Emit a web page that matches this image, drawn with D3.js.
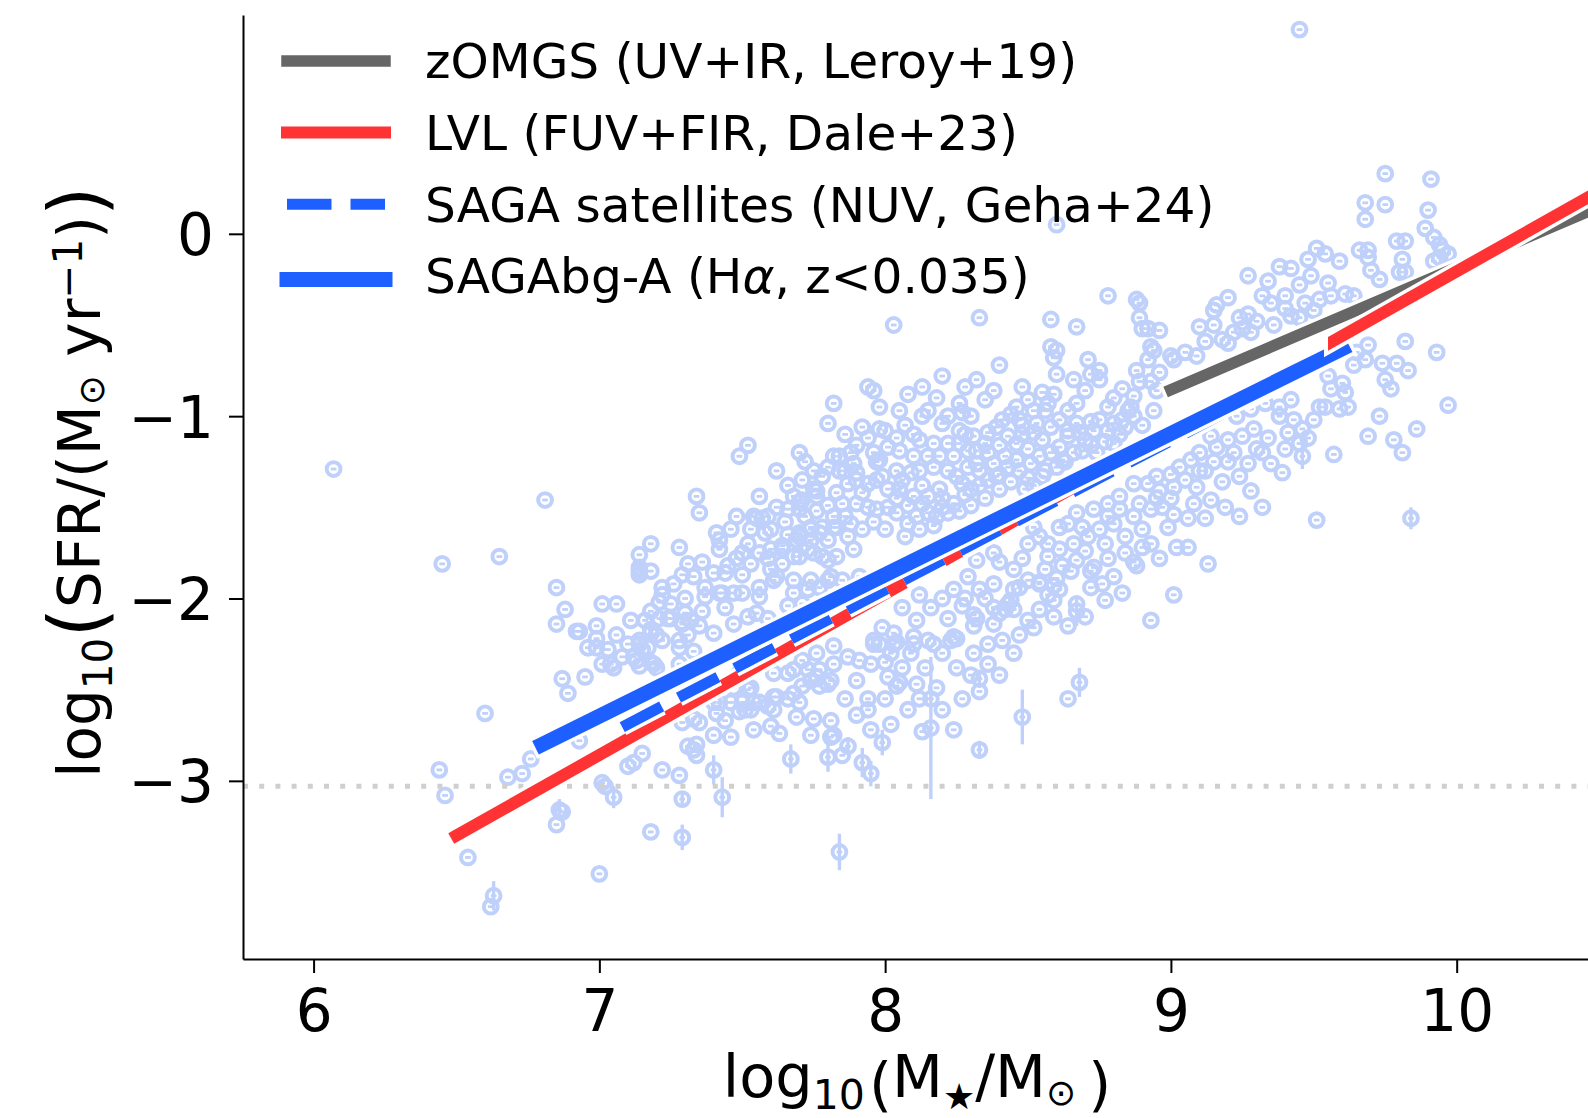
<!DOCTYPE html>
<html><head><meta charset="utf-8">
<script src="https://cdn.jsdelivr.net/npm/d3@7"></script>
<style>
body{margin:0;background:#fff}
svg{display:block}
text{font-family:"DejaVu Sans",sans-serif;fill:#000}
</style>
</head><body>
<svg id="chart" width="1588" height="1118"></svg>
<script>
// ---------------- data ----------------
const logMstar = [
9.45,6.07,6.45,6.65,6.81,6.44,6.46,6.54,6.60,6.68,
6.73,6.85,6.85,6.85,6.87,6.89,6.92,6.95,7.00,7.01,
7.06,7.02,7.18,7.22,6.62,7.33,6.76,7.49,7.52,7.34,
7.35,7.41,7.42,7.44,7.54,7.59,7.71,7.82,7.82,7.94,
7.98,8.03,8.13,8.20,8.33,8.40,8.58,8.60,8.58,8.67,
8.78,8.88,8.89,8.90,8.93,9.01,9.09,9.16,9.25,9.27,
9.27,9.38,9.40,9.28,9.01,8.93,8.87,8.77,8.64,8.54,
8.59,8.44,8.42,8.41,8.33,8.31,8.25,8.23,8.13,8.16,
8.14,8.10,8.05,8.01,6.93,7.94,7.94,7.90,7.10,7.85,
7.81,7.63,7.61,7.54,7.53,7.51,7.46,7.47,7.38,7.33,
7.39,7.33,7.28,7.22,7.20,7.17,7.13,7.14,7.18,7.14,
7.22,7.21,7.24,7.30,7.32,7.11,7.16,7.18,6.99,6.93,7.05,
8.89,8.92,8.60,8.59,8.60,8.71,8.72,8.75,8.75,8.88,
8.92,8.94,8.89,8.93,8.95,8.28,8.35,8.48,8.55,8.59,
8.50,8.57,8.52,8.67,8.80,8.87,8.86,8.78,8.94,7.96,
7.98,8.26,8.27,8.30,8.20,8.39,8.41,8.44,8.47,8.48,
8.52,8.53,8.58,8.61,8.64,8.67,8.72,8.75,8.80,8.83,
8.87,7.56,7.48,7.57,7.42,7.40,7.50,7.42,7.47,7.56,
7.56,7.60,7.64,7.69,7.66,7.70,7.71,7.76,7.80,7.84,
7.89,7.90,7.87,7.90,7.94,7.97,7.97,7.80,7.85,7.90,
7.94,7.88,7.83,7.78,7.74,7.70,7.74,7.80,7.87,7.89,
7.83,7.78,7.73,7.68,7.64,7.62,7.68,7.74,7.80,7.85,
7.91,7.97,8.01,8.04,8.08,8.11,8.15,8.18,8.22,8.24,
8.15,8.10,8.05,8.01,7.98,8.04,8.09,8.12,8.17,8.22,
8.25,8.27,8.29,8.32,8.36,8.32,8.29,8.24,8.19,8.15,
8.10,8.05,8.01,7.96,8.17,8.22,8.26,8.31,8.36,8.43,
8.46,8.46,8.43,8.39,8.36,8.47,8.51,8.54,8.58,8.61,
8.64,8.68,8.73,8.78,8.85,8.69,
8.52,8.57,8.61,8.67,8.69,8.73,8.78,8.82,8.87,8.89,
8.93,8.87,8.92,8.95,8.88,8.73,8.67,8.65,8.60,8.54,
8.72,8.76,8.47,8.45,8.38,8.43,8.32,8.38,8.59,8.67,
9.75,9.91,9.68,9.75,9.68,9.90,9.89,9.92,9.94,9.95,
9.94,9.79,9.82,9.66,9.69,9.69,9.81,9.70,9.73,9.80,
9.82,9.92,9.97,9.51,9.54,9.59,9.48,9.42,9.49,9.55,
9.32,9.35,9.40,9.42,9.47,9.52,9.56,9.61,9.64,9.15,
9.24,9.10,9.28,9.22,9.18,9.12,9.05,9.00,8.96,9.82,
9.93,9.69,9.65,9.64,9.68,9.74,9.79,9.83,9.75,9.77,
9.55,9.60,9.61,9.56,9.54,9.59,9.62,9.97,9.73,9.86,
9.69,9.78,9.81,9.57,9.51,9.14,9.18,9.27,9.35,9.39,
9.43,9.46,9.41,9.38,9.42,9.38,9.33,9.28,9.23,9.29,
9.25,9.20,9.16,9.14,9.10,9.07,9.03,9.00,9.05,9.09,
9.01,8.96,8.97,9.01,9.06,9.12,8.99,9.02,9.06,8.96,
7.75,7.76,7.70,7.55,7.28,7.31,7.29,7.14,7.18,7.14,
6.88,6.99,6.99,6.96,7.03,7.08,7.04,7.14,7.15,7.12,
7.14,7.18,7.18,7.21,7.25,7.29,7.18,7.22,7.35,7.28,
7.28,7.37,7.37,7.43,7.50,7.60,7.61,7.56,7.55,7.59,
7.66,7.71,7.52,7.47,7.40,7.66,7.70,7.74,7.77,7.82,
7.82,7.64,7.70,7.75,7.80,7.81,7.77,7.73,7.68,
7.12,7.15,7.01,6.87,7.28,7.34,7.34,7.40,7.35,7.29,
7.44,7.46,7.50,7.54,7.53,7.49,7.59,7.61,7.69,7.70,
7.71,7.76,7.80,7.74,7.66,7.61,7.59,7.54,7.49,7.71,
7.76,7.82,7.42,7.41,
7.14,7.19,7.31,7.29,7.31,7.40,7.75,7.81,7.82,7.68,
7.73,7.77,7.82,7.87,7.91,7.96,8.04,7.98,8.03,8.02,
7.56,7.62,7.68,7.74,7.77,7.81,
7.90,8.12,8.26,9.13,8.82,8.78,8.64,8.54,8.50,8.80,
8.75,8.71,8.66,8.61,8.57,8.61,8.33,8.29,8.24,8.59,
8.54,8.45,8.38,8.31,8.24,8.17,8.10,8.03,7.96,
8.06,8.11,8.16,8.22,8.27,8.32,8.38,7.99,8.04,8.09,
8.15,8.20,8.25,8.31,8.36,8.06,8.11,8.18,7.95,8.00,
8.08,8.20,8.27,8.24,8.02,7.95,
7.62,7.66,7.72,7.78,7.83,7.86,7.92,7.99,8.06,8.13,
8.19,8.08,8.13,8.20,8.28,8.33,8.30,8.35,8.40,8.42,
8.40,8.50,8.55,8.62,8.66,8.72,8.77,8.82,8.56,8.52,
8.00,8.07,8.13,8.05,7.92,7.86,7.80,7.70,7.65,7.58,
7.52,7.48,7.53,7.59,
8.40,8.48,8.56,8.62,8.70,8.77,8.84,8.90,8.93,8.84,
8.80,8.83,8.70,8.64,8.50,8.47,8.35,8.28,8.20,8.12,
9.20,9.24,9.30,9.34,9.45,9.12,9.08,9.19,9.24,9.32,
7.72,7.76,7.86,7.92,7.96,8.00,8.04,8.07,8.12,8.17,
8.20,8.26,8.30,8.33,8.38,8.40,8.44,8.49,8.50,8.55,
8.60,8.63,8.70,8.74,8.80,8.84,8.90,8.35,8.28,8.22,
8.15,8.10,8.04,7.94,7.88,7.84,7.75,7.68,7.62,7.60,
7.53,7.46,7.50,7.45,7.36,7.33,7.26,7.30,7.44,7.36,
7.25,7.20,7.10,7.06,7.01,8.48,8.56,8.64,8.70,8.83,
8.66,8.46,8.38,8.32,8.18,8.08,
9.30,9.36,9.45,9.50,9.34,9.45,9.20,9.15,9.20,
9.00,9.10,9.15,9.22,9.32,9.40,9.48,9.50,9.52,8.95,
8.90,8.96,8.78,8.72,8.57,8.50,8.45,8.52,8.40,8.36,
8.45,8.30,8.40,8.12,8.00,7.90,7.86,7.66,7.60,7.52
];
const logSFR = [
1.12,-1.29,-1.81,-1.77,-1.46,-2.94,-3.08,-3.42,-2.63,-2.98,
-2.96,-1.94,-2.14,-3.24,-2.44,-2.52,-2.18,-2.43,-3.51,-2.03,
-2.03,-3.03,-3.28,-2.94,-3.69,-2.83,-2.88,-1.22,-1.16,-1.44,
-1.53,-1.64,-1.73,-1.86,-1.55,-1.55,-1.35,-1.22,-0.93,-0.84,
-0.95,-0.50,-0.84,-0.78,-0.46,-0.72,-0.47,0.05,-0.62,-0.51,
-0.34,-0.36,-0.38,-0.52,-0.62,-0.69,-0.67,-0.39,-0.52,-0.23,
-0.44,-0.18,-0.34,-1.41,-1.98,-2.12,-1.80,-2.01,-2.55,-1.91,
-1.93,-2.01,-2.06,-2.23,-2.51,-2.09,-2.22,-2.23,-2.73,-2.55,
-2.38,-2.25,-2.46,-2.43,-2.78,-2.55,-2.61,-2.64,-2.92,-2.86,
-2.76,-2.74,-2.54,-2.72,-2.49,-2.61,-2.76,-2.49,-2.53,-2.66,
-2.33,-2.29,-2.36,-2.23,-2.38,-2.27,-2.34,-1.76,-1.70,-1.85,
-1.94,-2.02,-2.11,-2.08,-2.12,-2.12,-2.12,-2.19,-2.27,-2.18,-2.38,
-0.46,-0.52,-0.64,-0.68,-0.77,-0.69,-0.77,-0.75,-0.80,-0.75,
-0.69,-0.64,-0.81,-0.81,-0.86,-0.84,-0.91,-0.84,-0.87,-0.88,
-0.91,-0.93,-0.97,-0.93,-0.90,-0.89,-0.95,-0.95,-0.97,-0.86,
-1.07,-0.93,-0.98,-1.00,-1.04,-1.06,-1.02,-0.99,-1.02,-1.05,
-1.09,-1.04,-1.06,-1.02,-1.08,-1.04,-1.03,-1.02,-1.04,-1.02,
-1.00,-1.44,-1.55,-1.56,-1.68,-1.86,-1.87,-1.97,-1.97,-1.94,
-1.75,-1.73,-1.71,-1.68,-1.51,-1.51,-1.46,-1.41,-1.28,-1.22,
-1.26,-1.31,-1.37,-1.35,-1.37,-1.25,-1.35,-1.49,-1.48,-1.48,
-1.50,-1.59,-1.61,-1.61,-1.61,-1.64,-1.68,-1.68,-1.66,-1.73,
-1.77,-1.77,-1.73,-1.77,-1.81,-1.88,-1.90,-1.90,-1.90,-1.90,
-1.88,-1.51,-1.50,-1.53,-1.59,-1.55,-1.53,-1.55,-1.53,-1.48,
-1.44,-1.44,-1.40,-1.40,-1.24,-1.30,-1.31,-1.30,-1.28,-1.30,
-1.33,-1.37,-1.28,-1.26,-1.20,-1.19,-1.19,-1.22,-1.22,-1.22,
-1.22,-1.19,-1.17,-1.20,-1.15,-1.15,-1.15,-1.11,-1.09,-1.11,
-1.15,-1.24,-1.28,-1.33,-1.35,-1.30,-1.26,-1.22,-1.20,-1.17,
-1.11,-1.09,-1.08,-1.08,-0.97,-1.19,
-1.61,-1.70,-1.61,-1.53,-1.61,-1.51,-1.55,-1.51,-1.55,-1.48,
-1.51,-1.37,-1.37,-1.33,-1.82,-1.83,-1.79,-1.85,-1.89,-1.92,
-1.94,-1.92,-1.94,-1.84,-1.75,-2.03,-1.79,-1.92,-2.01,-2.03,
0.33,0.30,0.17,0.16,0.08,0.13,0.03,-0.02,-0.06,-0.09,
-0.13,-0.04,-0.04,-0.09,-0.09,-0.13,-0.14,-0.20,-0.25,-0.21,
-0.21,-0.15,-0.11,-0.08,-0.11,-0.15,-0.14,-0.19,-0.23,-0.27,
-0.34,-0.38,-0.41,-0.45,-0.38,-0.36,-0.34,-0.33,-0.34,-0.42,
-0.46,-0.51,-0.54,-0.54,-0.58,-0.59,-0.65,-0.67,-0.76,-0.59,
-0.65,-0.61,-0.65,-0.72,-0.69,-0.71,-0.71,-0.75,-0.80,-0.85,
-0.78,-0.82,-0.87,-0.85,-0.95,-0.96,-0.95,-0.94,-1.00,-1.07,
-1.11,-1.13,-1.20,-1.21,-1.57,-1.46,-1.36,-1.26,-1.26,-1.31,
-1.02,-1.07,-1.09,-1.00,-0.91,-0.95,-0.93,-0.96,-1.00,-1.07,
-1.11,-1.13,-1.17,-1.11,-1.20,-1.24,-1.28,-1.32,-1.35,-1.39,
-1.39,-1.41,-1.50,-1.54,-1.56,-1.56,-1.61,-1.72,-1.72,-0.53,
-1.40,-1.44,-1.47,-1.56,-1.72,-1.81,-1.87,-1.83,-1.85,-1.87,
-2.06,-2.15,-2.22,-2.27,-2.28,-2.32,-2.36,-2.23,-2.28,-2.32,
-2.37,-2.35,-2.07,-2.11,-2.11,-2.13,-2.17,-1.98,-2.15,-2.23,
-2.27,-1.94,-1.99,-1.97,-1.97,-1.84,-1.90,-1.99,-2.08,-2.11,
-2.04,-2.03,-2.10,-2.14,-2.19,-1.65,-1.66,-1.62,-1.64,-1.61,
-1.55,-1.73,-1.77,-1.75,-1.79,-1.88,-1.94,-1.95,-1.97,
-2.90,-2.85,-3.01,-3.17,-2.97,-2.80,-2.86,-2.75,-2.68,-2.68,
-2.67,-2.57,-2.57,-2.57,-2.61,-2.62,-2.59,-2.61,-2.65,-2.57,
-2.48,-2.43,-2.47,-2.75,-2.41,-2.41,-2.34,-2.36,-2.41,-2.34,
-2.30,-2.26,-2.57,-2.63,
-2.25,-2.36,-2.20,-2.14,-2.81,-2.57,-2.66,-2.67,-2.75,-2.39,
-2.39,-2.39,-2.36,-2.32,-2.34,-2.25,-2.48,-2.25,-2.19,-2.30,
-2.57,-2.54,-2.52,-2.45,-2.48,-2.45,
-1.16,-1.13,-1.08,-1.81,-1.44,-1.48,-1.59,-1.66,-1.70,-1.59,
-1.62,-1.66,-1.70,-1.73,-1.77,-1.95,-1.95,-1.88,-1.95,-2.10,
-2.06,-2.06,-2.14,-2.15,-2.21,-2.25,-2.21,-2.25,-2.23,
-2.05,-2.12,-2.05,-2.11,-2.04,-2.11,-2.05,-2.16,-2.24,-2.30,
-2.23,-2.30,-2.38,-2.30,-2.36,-2.38,-2.47,-2.49,-2.36,-2.55,
-2.61,-2.61,-2.55,-2.72,-2.69,-2.72,
-1.30,-1.38,-1.25,-1.33,-1.42,-1.30,-1.42,-1.33,-1.35,-1.38,
-1.40,-1.49,-1.48,-1.45,-1.43,-1.38,-1.49,-1.45,-1.40,-1.22,
-1.16,-1.18,-1.13,-1.24,-1.20,-1.16,-1.14,-1.10,-1.30,-1.38,
-1.08,-1.05,-1.00,-0.97,-1.06,-1.10,-1.04,-1.20,-1.58,-1.64,
-1.70,-1.78,-1.81,-1.78,
-1.80,-1.78,-1.84,-1.82,-1.74,-1.70,-1.66,-1.62,-1.70,-1.75,
-1.88,-1.97,-2.10,-2.15,-2.12,-2.20,-2.00,-2.00,-2.00,-1.98,
-1.25,-1.33,-1.18,-1.12,-1.15,-1.30,-1.48,-1.50,-1.55,-1.50,
-1.55,-1.52,-1.55,-1.62,-1.58,-1.62,-1.45,-1.66,-1.62,-1.60,
-1.50,-1.52,-1.40,-1.30,-1.26,-1.32,-1.36,-1.40,-1.34,-1.33,
-1.28,-1.25,-1.13,-1.20,-1.15,-1.06,-1.05,-1.15,-1.10,-1.00,
-0.97,-1.10,-1.12,-1.12,-1.20,-1.30,-1.30,-1.44,-1.50,-1.62,
-1.62,-1.62,-1.75,-1.82,-1.80,-1.88,-1.92,-2.00,-2.05,-2.07,
-2.03,-2.20,-2.25,-2.20,-2.36,-1.10,-0.97,-0.97,-0.86,-0.85,
-0.80,-0.95,-0.86,-0.80,-0.90,-0.88,
-0.48,-0.50,-0.46,-0.42,-0.26,-0.28,-0.35,-0.50,-0.60,
-1.45,-1.30,-1.25,-1.20,-1.20,-1.18,-1.12,-1.02,-0.95,-1.45,
-1.72,-1.78,-1.78,-1.85,-1.98,-1.90,-1.95,-2.16,-2.08,-2.25,
-2.30,-2.42,-2.42,-2.55,-2.35,-2.45,-2.55,-2.55,-2.70,-2.50
];
// galaxies with visible SFR error bars
const errMstar = [6.63,6.86,7.05,7.29,7.43,7.40,7.29,7.67,7.80,7.84,7.92,7.95,7.87,7.99,8.16,8.33,8.33,8.48,8.68,8.67,9.46,9.84];
const errSFR   = [-3.63,-3.16,-3.09,-3.31,-3.09,-2.94,-3.10,-2.88,-2.87,-3.39,-2.90,-2.96,-2.81,-2.79,-2.71,-2.83,-2.44,-2.65,-2.46,-2.07,-1.22,-1.56];
const errSize  = [0.08,0.06,0.06,0.07,0.11,0.08,0.04,0.08,0.08,0.10,0.08,0.07,0.05,0.07,0.39,0.05,0.05,0.15,0.08,0.08,0.07,0.06];
const MASS_ERR = 0.01;

// relations (start/end in log M*, log SFR)
const fitLabels = ["zOMGS (UV+IR, Leroy+19)","LVL (FUV+FIR, Dale+23)","SAGA satellites (NUV, Geha+24)","SAGAbg-A (H\u03b1, z<0.035)"];
const fitStartX = [9.0, 6.5, 7.08, 6.8];
const fitStartY = [-0.855, -3.30, -2.705, -2.80];
const fitEndX   = [10.5, 10.5, 9.55, 9.6];
const fitEndY   = [0.15, 0.236, -0.685, -0.63];
const lvlHiddenFrom = 9.1;      // LVL passes beneath SAGAbg-A here
const lvlOverlapStart = 9.55;   // LVL drawn on top beyond this mass
const sfrFloor = -3.03;

const xTicks = [6,7,8,9,10];
const yTicks = [0,-1,-2,-3];

// ---------------- styles ----------------
const fitColor = ["#666666","#ff3333","#1e5fff","#1e5fff"];
const fitWidth = [11.5,12,11,15];
const fitDash  = [null,null,"44.5,19",null];
const POINT_COLOR = "#bfd1fb";

// ---------------- chart ----------------
const svg = d3.select("#chart");
const x = d3.scaleLinear().domain([5.753, 10.47]).range([243, 1591]);
const y = d3.scaleLinear().domain([-3.977, 1.2]).range([959, 15]);

const defs = svg.append("defs");
defs.append("clipPath").attr("id","clipLow").append("rect")
  .attr("x",0).attr("y",0).attr("width",x(lvlHiddenFrom)).attr("height",1118);
defs.append("clipPath").attr("id","clipHalo").append("rect")
  .attr("x",x(lvlOverlapStart)-4).attr("y",0).attr("width",400).attr("height",1118);
defs.append("clipPath").attr("id","clipLine").append("rect")
  .attr("x",x(lvlOverlapStart)).attr("y",0).attr("width",400).attr("height",1118);

// scatter
const pts = logMstar.map((m,i)=>({m:m, s:logSFR[i], e:0}));
const epts = errMstar.map((m,i)=>({m:m, s:errSFR[i], e:errSize[i]}));
const all = pts.concat(epts);
const gP = svg.append("g");
gP.selectAll("line.xe").data(all).join("line").attr("class","xe")
  .attr("x1",d=>x(d.m-MASS_ERR)).attr("x2",d=>x(d.m+MASS_ERR))
  .attr("y1",d=>y(d.s)).attr("y2",d=>y(d.s))
  .attr("stroke",POINT_COLOR).attr("stroke-width",2.8);
gP.selectAll("line.ye").data(epts).join("line").attr("class","ye")
  .attr("x1",d=>x(d.m)).attr("x2",d=>x(d.m))
  .attr("y1",d=>y(d.s-d.e)).attr("y2",d=>y(d.s+d.e))
  .attr("stroke",POINT_COLOR).attr("stroke-width",3.4);
gP.selectAll("circle").data(all).join("circle")
  .attr("cx",d=>x(d.m)).attr("cy",d=>y(d.s)).attr("r",6.9)
  .attr("fill","none").attr("stroke",POINT_COLOR).attr("stroke-width",4.0);

// detection floor
svg.append("line")
  .attr("x1",x.range()[0]).attr("x2",x.range()[1])
  .attr("y1",y(sfrFloor)).attr("y2",y(sfrFloor))
  .attr("stroke","#cfcfcf").attr("stroke-width",5).attr("stroke-dasharray","5,11.2");

// relations
const line = d3.line().x(d=>x(d[0])).y(d=>y(d[1]));
function drawFit(g,i,clip){
  const data = [[fitStartX[i],fitStartY[i]],[fitEndX[i],fitEndY[i]]];
  const cap = fitDash[i] ? "butt" : "square";
  const sub = g.append("g");
  if(clip) sub.attr("clip-path",clip);
  sub.append("path").attr("d",line(data)).attr("fill","none")
    .attr("stroke","#fff").attr("stroke-width",fitWidth[i]+7)
    .attr("stroke-linecap",cap).attr("stroke-dasharray",fitDash[i]);
  sub.append("path").attr("d",line(data)).attr("fill","none")
    .attr("stroke",fitColor[i]).attr("stroke-width",fitWidth[i])
    .attr("stroke-linecap",cap).attr("stroke-dasharray",fitDash[i]);
}
const gL = svg.append("g");
drawFit(gL,0,null);
drawFit(gL,1,"url(#clipLow)");
drawFit(gL,2,null);
drawFit(gL,3,null);
// LVL on top at the high-mass end
const lvl = [[fitStartX[1],fitStartY[1]],[fitEndX[1],fitEndY[1]]];
gL.append("path").attr("d",line(lvl)).attr("fill","none").attr("clip-path","url(#clipHalo)")
  .attr("stroke","#fff").attr("stroke-width",fitWidth[1]+7).attr("stroke-linecap","square");
gL.append("path").attr("d",line(lvl)).attr("fill","none").attr("clip-path","url(#clipLine)")
  .attr("stroke",fitColor[1]).attr("stroke-width",fitWidth[1]).attr("stroke-linecap","square");

// axes
const xAxis = d3.axisBottom(x).tickValues(xTicks).tickFormat(d3.format("d"))
  .tickSize(14).tickPadding(17).tickSizeOuter(0);
const gx = svg.append("g").attr("transform","translate(0,959)").call(xAxis);
const yAxis = d3.axisLeft(y).tickValues(yTicks).tickFormat(d3.format("d"))
  .tickSize(14).tickPadding(15).tickSizeOuter(0);
const gy = svg.append("g").attr("transform","translate(243,0)").call(yAxis);
[gx,gy].forEach(g=>{
  g.select(".domain").attr("stroke","#000").attr("stroke-width",2);
  g.selectAll(".tick line").attr("stroke","#000").attr("stroke-width",2);
  g.selectAll(".tick text").attr("font-size",58).attr("font-family","DejaVu Sans").attr("fill","#000");
});
gy.selectAll(".tick text").attr("dy","0.36em");

// axis labels
const xl = svg.append("text").attr("x",917).attr("y",1097).attr("text-anchor","middle").attr("font-size",59);
xl.append("tspan").text("log");
xl.append("tspan").attr("font-size",41).attr("dy",12).text("10");
xl.append("tspan").attr("dx",4).attr("dy",-4).text("(");
xl.append("tspan").attr("dy",-8).text("M");
xl.append("tspan").attr("font-size",36).attr("dy",12).text("\u2605");
xl.append("tspan").attr("dy",-12).text("/M");
xl.append("tspan").attr("font-size",36).attr("dy",8).text("\u2299");
xl.append("tspan").attr("dx",12).attr("dy",0).text(")");

const yl = svg.append("text").attr("transform","translate(100,482) rotate(-90)")
  .attr("text-anchor","middle").attr("font-size",58);
yl.append("tspan").text("log");
yl.append("tspan").attr("font-size",40.6).attr("dy",12).text("10");
yl.append("tspan").attr("font-size",76).attr("dy",-9).text("(");
yl.append("tspan").attr("dy",-3).text("SFR/(M");
yl.append("tspan").attr("font-size",36).attr("dy",4).text("\u2299");
yl.append("tspan").attr("dy",-4).text("\u00a0yr");
yl.append("tspan").attr("font-size",40.6).attr("dy",-18).text("\u22121");
yl.append("tspan").attr("dy",18).text(")");
yl.append("tspan").attr("font-size",76).attr("dy",3).text(")");

// legend
const legY = [61,132.5,204.3,279.5];
const legBase = [77.5,149.5,221.5,292.5];
const gLeg = svg.append("g");
fitLabels.forEach((lab,i)=>{
  gLeg.append("line").attr("x1",287).attr("x2",385).attr("y1",legY[i]).attr("y2",legY[i])
    .attr("stroke",fitColor[i]).attr("stroke-width",fitWidth[i])
    .attr("stroke-linecap",fitDash[i]?"butt":"square").attr("stroke-dasharray",fitDash[i]);
  const t = gLeg.append("text").attr("x",425).attr("y",legBase[i]).attr("font-size",48.6);
  const parts = lab.split("\u03b1");
  t.append("tspan").text(parts[0]);
  if(parts.length>1){
    t.append("tspan").attr("font-style","italic").text("\u03b1");
    t.append("tspan").text(parts[1]);
  }
});
</script>
</body></html>
